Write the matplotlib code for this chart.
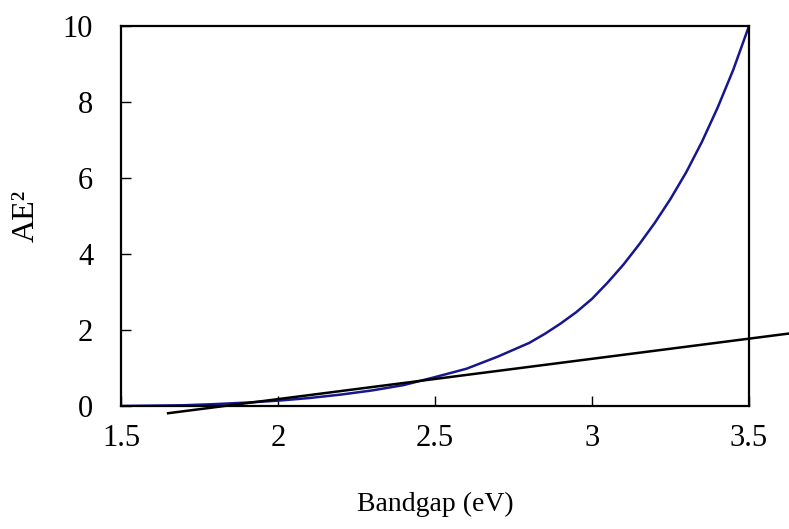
import numpy as np
import matplotlib
matplotlib.use("Agg")
import matplotlib.pyplot as plt

plt.rcParams['font.family'] = ['Liberation Serif', 'DejaVu Serif']

energy = [1.5, 1.6, 1.7, 1.8, 1.9, 2.0, 2.1, 2.2, 2.3, 2.4, 2.5,
          2.6, 2.7, 2.8, 2.85, 2.9, 2.95, 3.0, 3.05, 3.1, 3.15, 3.2,
          3.25, 3.3, 3.35, 3.4, 3.45, 3.5]
ae2 = [0.0, 0.01, 0.02, 0.05, 0.09, 0.14, 0.21, 0.30, 0.41, 0.55, 0.76,
       0.98, 1.30, 1.66, 1.90, 2.17, 2.47, 2.82, 3.25, 3.72, 4.25, 4.82,
       5.45, 6.15, 6.95, 7.85, 8.85, 10.0]

# tangent line end points
fit_x = [1.65, 3.63]
fit_y = [-0.19, 1.91]

xticks = [1.5, 2, 2.5, 3, 3.5]
xlabels = ["1.5", "2", "2.5", "3", "3.5"]
yticks = [0, 2, 4, 6, 8, 10]

fig = plt.figure(figsize=(7.89, 5.29), dpi=100)
ax = fig.add_axes([121/789, 1 - 406/529, (749 - 121)/789, (406 - 26)/529])

ax.plot(energy, ae2, color="#16168f", lw=1.8)
ax.plot(fit_x, fit_y, color="black", lw=1.8, clip_on=False)

ax.set_xlim(1.5, 3.5)
ax.set_ylim(0, 10)
ax.set_xticks(xticks)
ax.set_xticklabels(xlabels)
ax.set_yticks(yticks)
ax.tick_params(direction="in", length=7, width=1, labelsize=22, pad=13,
               top=False, right=False)
ax.tick_params(axis="y", pad=20)
for s in ax.spines.values():
    s.set_linewidth(1.6)

ax.set_xlabel("Bandgap (eV)", fontsize=20, labelpad=28)
ax.set_ylabel("AE²", fontsize=23)
ax.yaxis.set_label_coords(-0.128, 0.5)

fig.savefig("out.png", dpi=100)
